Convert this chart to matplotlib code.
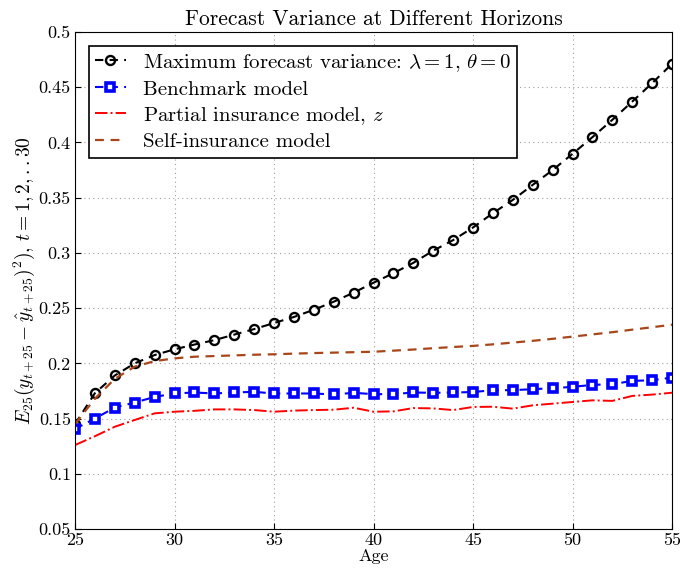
import matplotlib
matplotlib.use("Agg")
import matplotlib.pyplot as plt
import numpy as np

plt.rcParams['font.family'] = 'serif'
plt.rcParams['font.serif'] = ['cmr10', 'DejaVu Serif']
plt.rcParams['mathtext.fontset'] = 'cm'
plt.rcParams['axes.unicode_minus'] = False

# ages 25..55
age = np.arange(25, 56)

max_var = [0.145, 0.173, 0.189, 0.200, 0.2075, 0.2127, 0.217, 0.221, 0.226, 0.231,
           0.2365, 0.242, 0.2485, 0.2558, 0.264, 0.273, 0.2816, 0.291, 0.302, 0.3116,
           0.323, 0.336, 0.348, 0.3616, 0.375, 0.3897, 0.4048, 0.4205, 0.437, 0.4537,
           0.4712]
benchmark = [0.1406, 0.150, 0.160, 0.1645, 0.1696, 0.1727, 0.1736, 0.1727, 0.1736, 0.1742,
             0.1727, 0.1727, 0.1727, 0.1718, 0.1733, 0.1721, 0.1721, 0.1736, 0.1733, 0.1736,
             0.1740, 0.1757, 0.1757, 0.1766, 0.1775, 0.1787, 0.1805, 0.1811, 0.1841, 0.1847,
             0.1871]
partial = [0.126, 0.134, 0.1426, 0.1487, 0.1547, 0.1562, 0.157, 0.1583, 0.1583, 0.1577,
           0.1562, 0.1572, 0.1577, 0.158, 0.1598, 0.1562, 0.1565, 0.1595, 0.1592, 0.1577,
           0.1605, 0.1607, 0.159, 0.162, 0.1635, 0.165, 0.1665, 0.166, 0.1705, 0.1717,
           0.1734]
self_ins = [0.145, 0.168, 0.186, 0.197, 0.202, 0.2045, 0.206, 0.2066, 0.2072, 0.2078,
            0.2082, 0.2088, 0.2093, 0.2097, 0.2101, 0.2105, 0.2115, 0.2125, 0.2137, 0.2148,
            0.2158, 0.2172, 0.2188, 0.2204, 0.2222, 0.2242, 0.2262, 0.2282, 0.2305, 0.2327,
            0.235]

xticks = [25, 30, 35, 40, 45, 50, 55]
yticks = [0.05, 0.1, 0.15, 0.2, 0.25, 0.3, 0.35, 0.4, 0.45, 0.5]
ytick_labels = ['0.05', '0.1', '0.15', '0.2', '0.25', '0.3', '0.35', '0.4', '0.45', '0.5']

fig = plt.figure(figsize=(6.8, 5.76), dpi=100)
ax = fig.add_axes([0.1103, 0.0816, 0.878, 0.8628])

ax.plot(age, max_var, 'k--', marker='o', markersize=6.5, markerfacecolor='none',
        markeredgewidth=1.7, linewidth=1.5, dashes=(4, 3),
        label=r'Maximum forecast variance: $\lambda = 1,\, \theta = 0$')
ax.plot(age, benchmark, '--', color='blue', marker='s', markersize=5.5,
        markerfacecolor='white', markeredgecolor='blue', markeredgewidth=2.6,
        linewidth=1.5, dashes=(4, 3), label='Benchmark model')
ax.plot(age, partial, '-.', color='red', linewidth=1.4,
        label=r'Partial insurance model, $z$')
ax.plot(age, self_ins, '--', color='#a8461a', linewidth=1.6, dashes=(4, 3),
        label='Self-insurance model')

ax.set_xlim(25, 55)
ax.set_ylim(0.05, 0.5)
ax.set_xticks(xticks)
ax.set_yticks(yticks)
ax.set_yticklabels(ytick_labels)
ax.tick_params(direction='in', labelsize=13, pad=3, length=4)
ax.grid(True, linestyle=(0, (1, 3)), color='#a0a0a0', linewidth=0.8)

ax.set_title('Forecast Variance at Different Horizons', fontsize=15.5, pad=5)
ax.set_xlabel('Age', fontsize=13, labelpad=0)
ax.set_ylabel(r'$E_{25}(y_{t+25}-\hat{y}_{t+25})^2),\, t=1,2,..30$', fontsize=14, labelpad=1)

leg = ax.legend(loc='upper left', fontsize=15, fancybox=False, framealpha=1,
                edgecolor='black', handlelength=1.5, handletextpad=0.8,
                borderaxespad=0.65, borderpad=0.3, labelspacing=0.3)
leg.get_frame().set_linewidth(1.2)

fig.savefig('out.png', dpi=100)
